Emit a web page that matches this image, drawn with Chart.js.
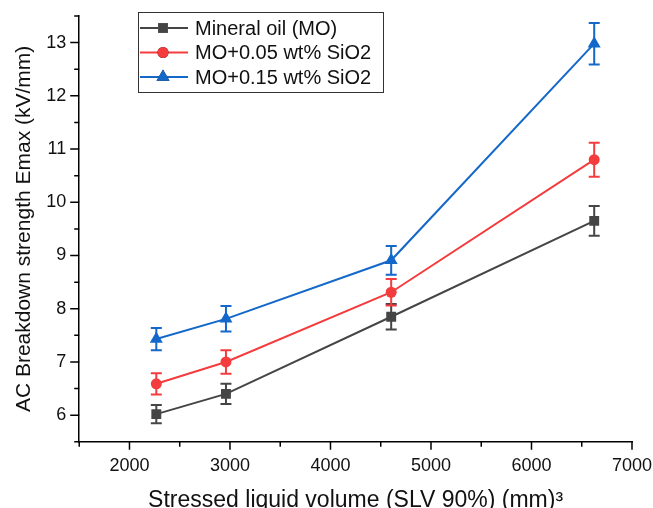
<!DOCTYPE html>
<html>
<head>
<meta charset="utf-8">
<script src="https://cdn.jsdelivr.net/npm/chart.js@4.4.0/dist/chart.umd.min.js"></script>
<style>
  html, body { margin: 0; padding: 0; background: #fff; }
  #wrap { width: 653px; height: 508px; position: relative; }
</style>
</head>
<body>
<div id="wrap"><canvas id="chart" width="653" height="508"></canvas></div>
<script>
// stressed liquid volume (mm^3)
const volumes = [2267, 2960, 4604, 6624];

const seriesNames = ['Mineral oil (MO)', 'MO+0.05 wt% SiO2', 'MO+0.15 wt% SiO2'];
const moValues = [6.02, 6.40, 7.85, 9.65];
const mo005Values = [6.59, 7.00, 8.31, 10.80];
const mo015Values = [7.43, 7.81, 8.91, 12.98];

// error bar half-heights
const moErrors = [0.17, 0.19, 0.24, 0.28];
const mo005Errors = [0.20, 0.22, 0.25, 0.32];
const mo015Errors = [0.21, 0.24, 0.27, 0.39];

const colors = ['#454545', '#f43c3e', '#1368c9'];
const markers = ['rect', 'circle', 'triangle'];
const markerSizes = [7, 5.5, 7.5];

function toPoints(vals) {
    return volumes.map((x, i) => ({ x: x, y: vals[i] }));
}

const allValues = [moValues, mo005Values, mo015Values];
const allErrors = [moErrors, mo005Errors, mo015Errors];

const datasets = allValues.map((vals, i) => ({
    label: seriesNames[i],
    data: toPoints(vals),
    errors: allErrors[i],
    borderColor: colors[i],
    backgroundColor: colors[i],
    borderWidth: 2,
    pointStyle: markers[i],
    pointRadius: markerSizes[i],
    pointBorderWidth: 0,
    tension: 0
}));

// error bars drawn through the chart's own scales
const errorBars = {
    id: 'errorBars',
    afterDatasetsDraw(chart) {
        const ctx = chart.ctx;
        const xs = chart.scales.x, ys = chart.scales.y;
        chart.data.datasets.forEach(ds => {
            ctx.save();
            ctx.strokeStyle = ds.borderColor;
            ctx.lineWidth = 2;
            ds.data.forEach((p, i) => {
                const px = xs.getPixelForValue(p.x);
                const top = ys.getPixelForValue(p.y + ds.errors[i]);
                const bot = ys.getPixelForValue(p.y - ds.errors[i]);
                ctx.beginPath();
                ctx.moveTo(px, top); ctx.lineTo(px, bot);
                ctx.moveTo(px - 5.5, top); ctx.lineTo(px + 5.5, top);
                ctx.moveTo(px - 5.5, bot); ctx.lineTo(px + 5.5, bot);
                ctx.stroke();
            });
            ctx.restore();
        });
    }
};

// major/minor tick marks outside the axes
const tickMarks = {
    id: 'tickMarks',
    afterDraw(chart) {
        const ctx = chart.ctx;
        const xs = chart.scales.x, ys = chart.scales.y;
        ctx.save();
        ctx.strokeStyle = '#000';
        ctx.lineWidth = 1.5;
        ctx.beginPath();
        xs.ticks.forEach(t => {
            const px = xs.getPixelForValue(t.value);
            const len = t.value % 1000 === 0 ? 8 : 5;
            ctx.moveTo(px, xs.top); ctx.lineTo(px, xs.top + len);
        });
        ys.ticks.forEach(t => {
            const py = ys.getPixelForValue(t.value);
            const len = Number.isInteger(t.value) ? 9 : 5;
            ctx.moveTo(ys.right, py); ctx.lineTo(ys.right - len, py);
        });
        ctx.stroke();
        ctx.restore();
    }
};

// boxed legend with line + marker samples
const boxLegend = {
    id: 'boxLegend',
    afterDraw(chart) {
        const ctx = chart.ctx;
        const left = 138, top = 12, w = 245, h = 80;
        ctx.save();
        ctx.fillStyle = '#fff';
        ctx.fillRect(left, top, w, h);
        ctx.strokeStyle = '#333';
        ctx.lineWidth = 1;
        ctx.strokeRect(left + 0.5, top + 0.5, w, h);
        ctx.font = '20px "Liberation Sans", Arial, sans-serif';
        ctx.textBaseline = 'middle';
        chart.data.datasets.forEach((ds, i) => {
            const y = top + 16 + i * 24.5;
            ctx.strokeStyle = ds.borderColor;
            ctx.lineWidth = 2;
            ctx.beginPath();
            ctx.moveTo(left + 2, y); ctx.lineTo(left + 50, y);
            ctx.stroke();
            Chart.helpers.drawPoint(ctx, {
                pointStyle: ds.pointStyle,
                radius: ds.pointRadius,
                borderWidth: 0
            }, left + 25, y);
            ctx.fillStyle = ds.backgroundColor;
            ctx.fill();
            ctx.fillStyle = '#111';
            ctx.fillText(ds.label, left + 57, y + 1);
        });
        ctx.restore();
    }
};

const font = { family: '"Liberation Sans", Arial, sans-serif' };

new Chart(document.getElementById('chart'), {
    type: 'line',
    data: { datasets: datasets },
    options: {
        responsive: false,
        animation: false,
        layout: { padding: { top: 16, right: 21, left: 6, bottom: -6 } },
        plugins: {
            legend: { display: false },
            tooltip: { enabled: false }
        },
        scales: {
            x: {
                type: 'linear',
                min: 1500,
                max: 7000,
                afterFit: scale => { scale.paddingRight = 0; },
                border: { color: '#000', width: 1.5 },
                grid: { drawOnChartArea: false, tickLength: 8, color: 'rgba(0,0,0,0)' },
                ticks: {
                    stepSize: 500,
                    autoSkip: false,
                    maxRotation: 0,
                    color: '#111',
                    padding: 5,
                    font: Object.assign({ size: 18 }, font),
                    callback: v => (v % 1000 === 0 ? v : '')
                },
                title: {
                    display: true,
                    text: 'Stressed liquid volume (SLV 90%) (mm)³',
                    color: '#111',
                    padding: { top: 5, bottom: 0 },
                    font: Object.assign({ size: 23 }, font)
                }
            },
            y: {
                type: 'linear',
                min: 5.5,
                max: 13.5,
                border: { color: '#000', width: 1.5 },
                grid: { drawOnChartArea: false, tickLength: 9, color: 'rgba(0,0,0,0)' },
                ticks: {
                    stepSize: 0.5,
                    autoSkip: false,
                    color: '#111',
                    padding: 4,
                    font: Object.assign({ size: 18 }, font),
                    callback: v => (Number.isInteger(v) ? v : '')
                },
                title: {
                    display: true,
                    text: 'AC Breakdown strength Emax (kV/mm)',
                    color: '#111',
                    padding: { top: 6, bottom: 5 },
                    font: Object.assign({ size: 21 }, font)
                }
            }
        }
    },
    plugins: [errorBars, tickMarks, boxLegend]
});
</script>
</body>
</html>
